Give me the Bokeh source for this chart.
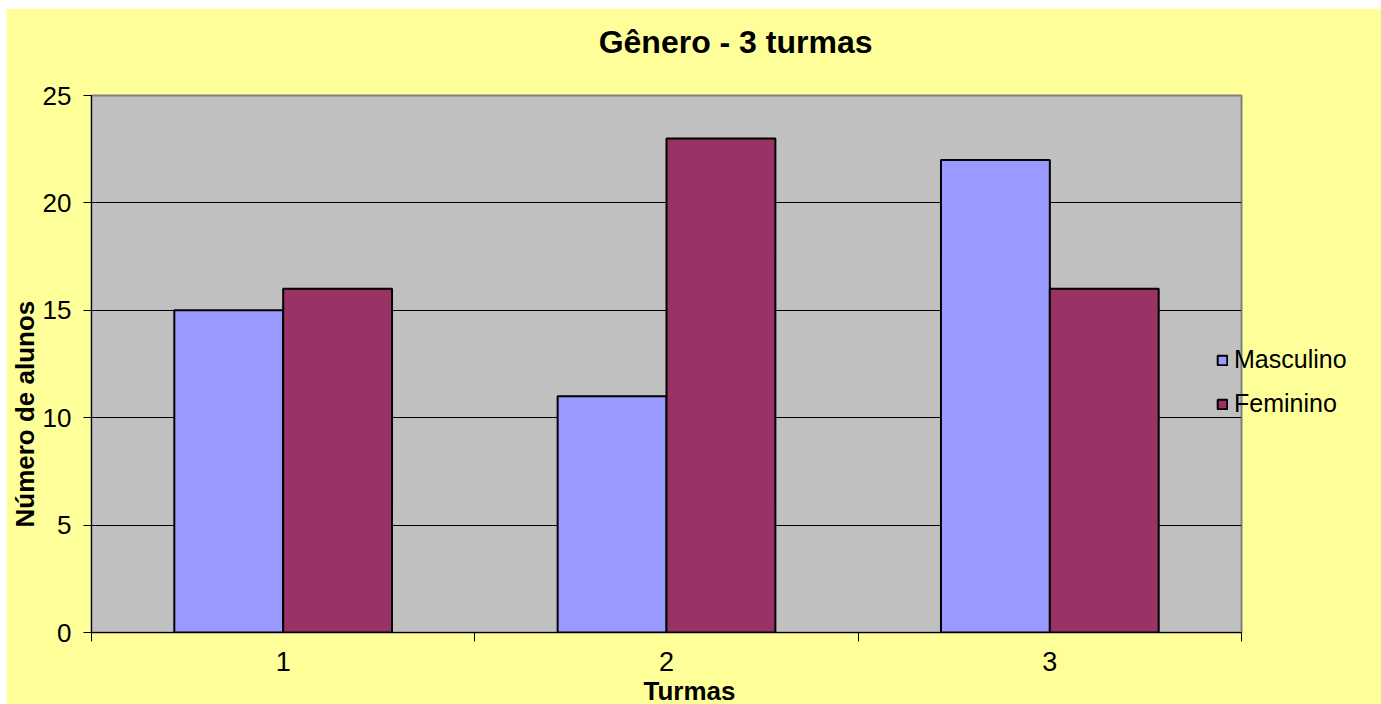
from bokeh.plotting import figure
from bokeh.models import (ColumnDataSource, Range1d, FixedTicker, Legend, LegendItem, Title)
from bokeh.embed import file_html
from bokeh.resources import INLINE

# Students per class, split by gender
turmas = ["1", "2", "3"]
masculino = [15, 11, 22]
feminino = [16, 23, 16]
y_ticks = [0, 5, 10, 15, 20, 25]

FONT = "Liberation Sans"
BAR_W = 0.284

centers = [i + 0.5 for i in range(len(turmas))]
src = ColumnDataSource(dict(
    x_m=[c - BAR_W / 2 for c in centers],
    x_f=[c + BAR_W / 2 for c in centers],
    masculino=masculino,
    feminino=feminino,
))

p = figure(frame_width=1150, frame_height=537, output_backend="svg", toolbar_location=None,
           x_range=Range1d(0, len(turmas)), y_range=Range1d(0, 25),
           min_border_left=85, min_border_right=134, min_border_top=87, min_border_bottom=72,
           background_fill_color="#C0C0C0", border_fill_color="#FFFF99",
           outline_line_color="#808080", outline_line_width=2)
p.margin = (8, 0, 0, 6)

r_m = p.vbar(x="x_m", top="masculino", width=BAR_W, source=src,
             fill_color="#9999FF", line_color="black", line_width=2)
r_f = p.vbar(x="x_f", top="feminino", width=BAR_W, source=src,
             fill_color="#993366", line_color="black", line_width=2)

# x axis: class names at group centres, tick marks at group boundaries
xa = p.xaxis[0]
xa.ticker = FixedTicker(ticks=centers, minor_ticks=list(range(len(turmas) + 1)))
xa.major_label_overrides = {c: t for c, t in zip(centers, turmas)}
xa.major_tick_out = 0
xa.major_tick_in = 0
xa.minor_tick_out = 9
xa.minor_tick_in = 0
xa.minor_tick_line_color = "black"
xa.axis_line_color = "black"
xa.axis_line_width = 1
xa.major_label_text_font = FONT
xa.major_label_text_font_size = "27px"
xa.major_label_text_color = "black"
xa.major_label_standoff = 10

ya = p.yaxis[0]
ya.ticker = FixedTicker(ticks=y_ticks)
ya.major_tick_out = 8
ya.major_tick_in = 0
ya.major_tick_line_color = "black"
ya.minor_tick_line_color = None
ya.axis_line_color = "black"
ya.major_label_text_font = FONT
ya.major_label_text_font_size = "26px"
ya.major_label_text_color = "black"
ya.major_label_standoff = 12

p.xgrid.grid_line_color = None
p.ygrid.ticker = FixedTicker(ticks=y_ticks[1:-1])
p.ygrid.grid_line_color = "black"
p.ygrid.grid_line_width = 1

# Legend in the right margin, its markers reaching back over the plot edge
legend = Legend(items=[LegendItem(label="Masculino", renderers=[r_m]),
                       LegendItem(label="Feminino", renderers=[r_f])],
                location=(-25, 214), background_fill_alpha=0, border_line_alpha=0,
                padding=0, margin=0, spacing=15, glyph_width=12, glyph_height=12,
                label_height=25, label_standoff=6,
                label_text_font=FONT, label_text_font_size="25px", label_text_color="black")
p.add_layout(legend, "right")

# Chart title and axis titles
p.add_layout(Title(text="Gênero - 3 turmas\n", align="right", offset=369, standoff=0,
                   text_font=FONT, text_font_size="32px", text_font_style="bold",
                   text_color="black"), "above")
p.add_layout(Title(text="Número de alunos", align="left", offset=105, standoff=0,
                   text_font=FONT, text_font_size="26px", text_font_style="bold",
                   text_color="black"), "left")
p.add_layout(Title(text="Turmas", align="right", offset=506, standoff=0,
                   text_font=FONT, text_font_size="26px", text_font_style="bold",
                   text_color="black"), "below")

open("out.html", "w").write(file_html(p, INLINE))
